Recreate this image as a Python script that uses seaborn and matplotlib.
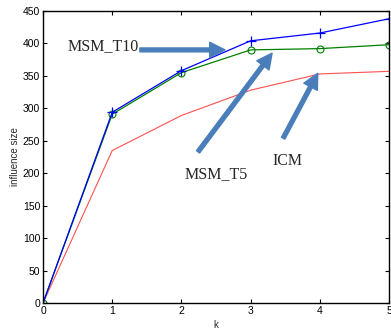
import matplotlib
matplotlib.use("Agg")
import matplotlib.pyplot as plt
import seaborn as sns
import pandas as pd

# influence size per k
k = [0, 1, 2, 3, 4, 5]
msm_t10 = [0, 294, 358, 404, 416, 438]
msm_t5 = [0, 291, 355, 390, 392, 398]
icm = [0, 235, 289, 328, 353, 357]

sns.set_style("ticks")
plt.rcParams["font.family"] = ["Liberation Sans", "DejaVu Sans"]

fig = plt.figure(figsize=(3.91, 3.32), dpi=100)
ax = fig.add_axes([0.110, 0.087, 0.885, 0.880])

sns.lineplot(x=k, y=icm, ax=ax, color="#ff5050", linewidth=0.8)
sns.lineplot(x=k, y=msm_t5, ax=ax, color="#008000", linewidth=0.9,
             marker="o", markersize=5, markerfacecolor="none",
             markeredgecolor="#008000", markeredgewidth=0.8)
sns.lineplot(x=k, y=msm_t10, ax=ax, color="#0000ff", linewidth=0.9,
             marker="+", markersize=7, markeredgecolor="#0000ff",
             markeredgewidth=0.9)

ax.set_xlim(0, 5)
ax.set_ylim(0, 450)
ax.set_xticks(k)
ax.set_yticks(range(0, 451, 50))
ax.tick_params(direction="in", top=True, right=True, labelsize=7.5,
               length=3, width=0.8, pad=2, colors="black")
for s in ax.spines.values():
    s.set_linewidth(1.0)
    s.set_color("black")
ax.set_xlabel("k", fontsize=7, labelpad=3)
ax.set_ylabel("influence size", fontsize=7, labelpad=2)

arrow = dict(arrowstyle="simple,head_width=1.1,head_length=1.1,tail_width=0.28",
             color="#4a7ebb", shrinkA=0, shrinkB=0)
serif = ["Liberation Serif", "DejaVu Serif"]
ax.annotate("", xy=(2.63, 390), xytext=(1.40, 390), arrowprops=arrow)
ax.annotate("", xy=(3.31, 385), xytext=(2.24, 233), arrowprops=arrow)
ax.annotate("", xy=(3.97, 354), xytext=(3.47, 254), arrowprops=arrow)
ax.text(0.36, 396, "MSM_T10", family=serif, fontsize=11.5, va="center")
ax.text(2.05, 199, "MSM_T5", family=serif, fontsize=11.5, va="center")
ax.text(3.31, 219, "ICM", family=serif, fontsize=11.5, va="center")

fig.savefig("out.png", dpi=100)
